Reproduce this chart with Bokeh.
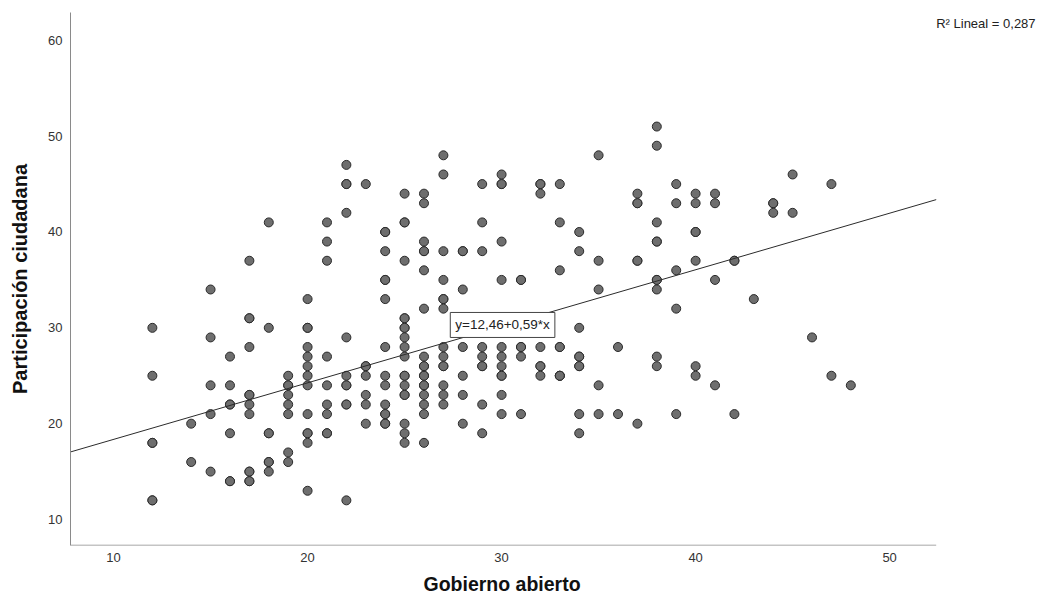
from bokeh.plotting import figure
from bokeh.models import Range1d, Label, FixedTicker, ColumnDataSource, Title
from bokeh.embed import file_html
from bokeh.resources import INLINE

# Data (x = Gobierno abierto, y = Participación ciudadana)
gob_12 = [12, 12, 12, 12, 12, 12]
par_12 = [30, 25, 18, 18, 12, 12]
gob_14_19 = [14, 14, 15, 15, 15, 15, 15, 16, 16, 16, 16, 16, 16, 16,
             17, 17, 17, 17, 17, 17, 17, 17, 17, 17, 17, 17,
             18, 18, 18, 18, 18, 18, 18, 19, 19, 19, 19, 19, 19, 19, 19]
par_14_19 = [20, 16, 34, 29, 24, 21, 15, 27, 24, 22, 22, 19, 14, 14,
             37, 31, 31, 28, 23, 23, 22, 21, 15, 15, 14, 14,
             41, 30, 19, 19, 16, 16, 15, 25, 24, 24, 23, 22, 21, 17, 16]
gob_20_24 = [20] * 13 + [21] * 9 + [22] * 11 + [23] * 7 + [24] * 14
par_20_24 = [33, 30, 30, 28, 27, 26, 25, 24, 21, 19, 19, 18, 13,
             41, 39, 37, 27, 24, 22, 21, 19, 19,
             47, 45, 45, 42, 29, 25, 24, 24, 22, 22, 12,
             45, 26, 26, 25, 23, 22, 20,
             40, 40, 38, 35, 35, 33, 28, 25, 24, 22, 21, 21, 20, 20]
gob_25_29 = [25] * 19 + [26] * 18 + [27] * 14 + [28] * 7 + [29] * 9
par_25_29 = [44, 41, 41, 37, 31, 31, 30, 30, 29, 28, 27, 25, 25, 24, 23, 23, 20, 19, 18,
             44, 43, 39, 38, 38, 36, 32, 27, 26, 26, 25, 25, 24, 24, 23, 22, 21, 18,
             48, 46, 38, 35, 33, 33, 32, 28, 27, 26, 26, 24, 23, 22,
             20, 38, 38, 34, 28, 25, 23, 19,
             45, 41, 38, 28, 27, 26, 26, 22, 21]
gob_30_35 = [30] * 12 + [31] * 6 + [32] * 7 + [33] * 8 + [34] * 9 + [35] * 5
par_30_35 = [46, 45, 45, 39, 35, 28, 27, 26, 25, 25, 23, 21,
             35, 35, 28, 28, 27, 25,
             45, 45, 44, 28, 26, 26, 25,
             45, 41, 36, 28, 28, 25, 25, 19,
             40, 38, 30, 27, 27, 26, 26, 21, 21,
             48, 37, 34, 24, 21]
gob_36_48 = [36] * 2 + [37] * 6 + [38] * 10 + [39] * 5 + [40] * 7 + [41] * 4 + \
            [42] * 3 + [43] + [44] * 3 + [45] * 2 + [46] + [47] * 2 + [48]
par_36_48 = [28, 20,
             44, 43, 43, 37, 37, 27,
             51, 49, 41, 39, 39, 35, 35, 34, 26, 21,
             45, 43, 36, 32, 26,
             44, 43, 40, 40, 37, 25, 24,
             44, 43, 35, 21,
             37, 37, 33,
             43,
             43, 42, 42,
             46, 29,
             25,
             45, 24,
             44]

gobierno_abierto = gob_12 + gob_14_19 + gob_20_24 + gob_25_29 + gob_30_35 + gob_36_48
participacion = par_12 + par_14_19 + par_20_24 + par_25_29 + par_30_35 + par_36_48

intercept = 12.46
slope = 0.59
r2_text = "R\u00b2 Lineal = 0,287"
eq_text = "y=12,46+0,59*x"
eq_pos = (30.05, 30.3)
x_title = "Gobierno abierto"
y_title = "Participación ciudadana"
x_ticks = [10, 20, 30, 40, 50]
y_ticks = [10, 20, 30, 40, 50, 60]

# axis extents of the chart (x axis line stops at x_axis_end)
x_lo, x_axis_end, x_hi = 7.78, 52.4, 57.57
y_lo, y_hi = 7.29, 62.9

FONT = "Liberation Sans"

p = figure(width=1036, height=604, output_backend="svg", toolbar_location=None,
           x_range=Range1d(x_lo, x_hi), y_range=Range1d(y_lo, y_hi),
           min_border_left=70, min_border_right=0, min_border_top=12, min_border_bottom=59)
p.outline_line_color = None
p.xgrid.visible = False
p.ygrid.visible = False
p.background_fill_color = "white"
p.border_fill_color = "white"

for ax in (p.xaxis[0], p.yaxis[0]):
    ax.axis_line_color = "#8a8a8a"
    ax.axis_line_width = 1
    ax.major_tick_line_color = None
    ax.major_tick_out = 0
    ax.major_tick_in = 0
    ax.minor_tick_line_color = None
    ax.minor_tick_out = 0
    ax.minor_tick_in = 0
    ax.major_label_text_font = FONT
    ax.major_label_text_font_size = "13px"
    ax.major_label_text_color = "#333333"
    ax.axis_label_text_font = FONT
    ax.axis_label_text_font_style = "bold"
    ax.axis_label_text_color = "#111111"

p.yaxis.axis_label_text_font_size = "20px"
p.xaxis.axis_line_color = None
p.xaxis.ticker = FixedTicker(ticks=x_ticks)
p.yaxis.ticker = FixedTicker(ticks=y_ticks)
p.yaxis.axis_label = y_title
p.xaxis.major_label_standoff = 7
p.yaxis.major_label_standoff = 8
p.yaxis.axis_label_standoff = 14

# x axis title, centred under the drawn x axis (which stops at x_axis_end)
p.add_layout(Title(text=x_title, align="left", offset=353, standoff=12,
                   vertical_align="bottom", text_baseline="middle",
                   text_font=FONT, text_font_size="19.5px", text_font_style="bold",
                   text_color="#111111"), "below")

# x axis line, ending where the reference's axis ends
p.line([x_lo, x_axis_end], [y_lo, y_lo], line_color="#8a8a8a", line_width=1.5)

src = ColumnDataSource(dict(x=gobierno_abierto, y=participacion))
p.scatter("x", "y", source=src, size=9, fill_color="#6e6e6e", line_color="#2a2a2a", line_width=1)

# linear fit line across the plotted x extent
fit_x = [x_lo, x_axis_end]
fit_y = [intercept + slope * v for v in fit_x]
p.line(fit_x, fit_y, line_color="#2b2b2b", line_width=1)

p.add_layout(Label(x=eq_pos[0], y=eq_pos[1], text=eq_text, text_align="center", text_baseline="middle",
                   text_font=FONT, text_font_size="13.5px", text_color="#222222",
                   border_line_color="#444444", border_line_width=1,
                   background_fill_color="white", padding=5))

p.add_layout(Label(x=x_axis_end, y=61.75, text=r2_text,
                   text_align="left", text_baseline="middle",
                   text_font=FONT, text_font_size="13px", text_color="#222222"))

open("out.html", "w").write(file_html(p, INLINE))
